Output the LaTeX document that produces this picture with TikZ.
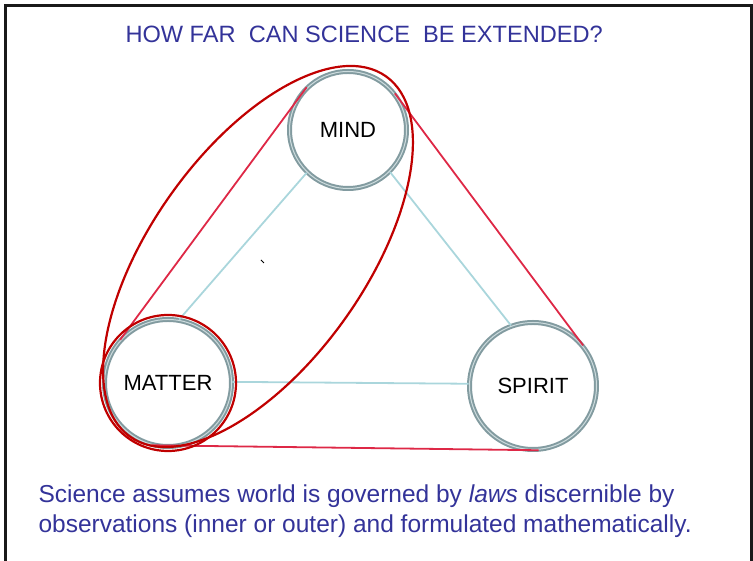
\documentclass[tikz,border=0pt]{standalone}
\usepackage{fontspec}
\setmainfont{Liberation Sans}
\usetikzlibrary{calc}
\definecolor{titleblue}{RGB}{51,51,153}
\definecolor{ringgray}{RGB}{130,155,160}
\definecolor{ringlight}{RGB}{205,220,222}
\definecolor{linkblue}{RGB}{170,214,220}
\definecolor{linkred}{RGB}{222,40,70}
\definecolor{outlinered}{RGB}{192,0,0}
\tikzset{
  realm/.style={circle, draw=ringgray, double=ringlight, double distance=1pt, line width=2pt, fill=white, inner sep=0pt, font=\fontsize{22}{26}\selectfont},
  inner link/.style={draw=linkblue, line width=1.8pt},
  outer link/.style={draw=linkred, line width=1.8pt},
  outline/.style={draw=outlinered, line width=2.2pt}
}

\begin{document}
\begin{tikzpicture}[x=1pt, y=1pt]
  \useasboundingbox (0,0) rectangle (753,561);
  \draw[line width=3pt, black!90] (5.5,0) -- (5.5,555.5) -- (751,555.5) -- (751,0);

  \node[anchor=base west, text=titleblue, font=\fontsize{23.6}{28}\selectfont] (title) at (122,518) {HOW FAR\ \ CAN SCIENCE\ \ BE EXTENDED?};

  \node[realm, minimum size=117pt] (mind) at (348,431) {MIND};
  \node[realm, minimum size=127pt] (matter) at (168,178) {MATTER};
  \node[realm, minimum size=127pt] (spirit) at (533,175) {SPIRIT};

  % links inside the triangle
  \draw[inner link] (mind.-134) -- (matter.80);
  \draw[inner link] (mind.-45) -- (spirit.110);
  \draw[inner link] (matter.1) -- (spirit.178);

  % outer triangle
  \draw[outer link] (mind.134) -- (matter.138);
  \draw[outer link] (mind.38) -- (spirit.39);
  \draw[outer link] (matter.-105) -- (spirit.-85);

  % matter and mind grouped
  \coordinate (pair) at ($(matter)!0.5!(mind)$);
  \draw[outline, rotate around={54.6:(pair)}] (pair) ellipse [x radius=221pt, y radius=107pt];
  \draw[outline] (matter.center) circle [radius=68pt];
  \draw[line width=0.8pt] (261,301) -- (264,298);

  \node[anchor=base west, align=left, text=titleblue, font=\fontsize{24.5}{30}\selectfont] (claim) at (35,28)
    {Science assumes world is governed by \textit{laws} discernible by\\observations (inner or outer) and formulated mathematically.};
\end{tikzpicture}
\end{document}
